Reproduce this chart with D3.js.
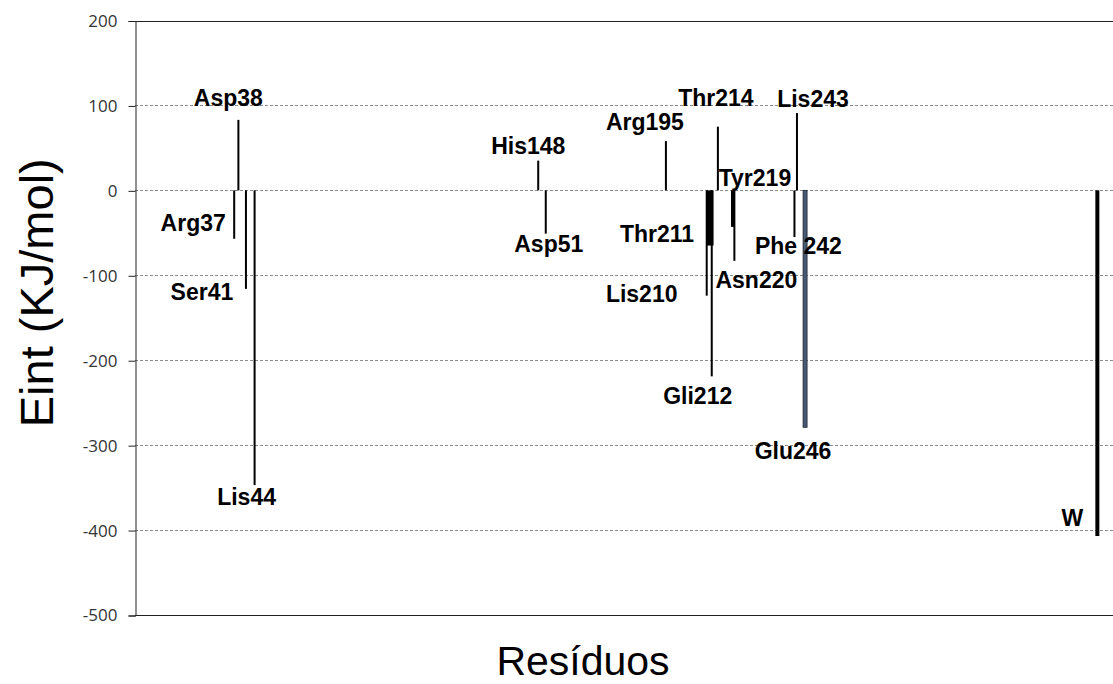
<!DOCTYPE html>
<html lang="pt">
<head>
  <meta charset="UTF-8">
  <script src="https://cdn.jsdelivr.net/npm/d3@7/dist/d3.min.js"></script>
  <title>Eint por resíduo</title>
  <style>
    body { margin: 0; background: #fff; }
  </style>
</head>
<body>
  <svg class="svg" width="1113" height="684"></svg>
  <script>
    // residues (label shown on chart), their order along the x axis, and Eint (KJ/mol)
    const residues = ["Arg37", "Asp38", "Ser41", "Lis44", "His148", "Asp51", "Arg195", "Lis210",
      "Thr211", "Gli212", "Thr214", "Tyr219", "Asn220", "Phe 242", "Lis243", "Glu246", "W"]
    const order = [35.5, 37, 39.7, 42.8, 144.3, 147, 190, 204.6,
      205.8, 206.4, 208.6, 214, 214.5, 236, 236.9, 239.8, 344.4]
    const eint = [-57, 83, -116, -347, 35, -51, 58, -124,
      -65, -219, 75, -43, -83, -55, 91, -279, -407]
    const yTicks = [200, 100, 0, -100, -200, -300, -400, -500]

    const data = residues.map((r, i) => ({name: r, pos: order[i], value: eint[i]}))

    let svg = d3.select(".svg")
    let margin = ({top: 20.5, right: 0, bottom: 69, left: 135})
    let width = +svg.attr("width")
    let height = +svg.attr("height")

    let x = d3.scaleLinear()
      .domain([0, 350])
      .range([margin.left, width - margin.right])

    let y = d3.scaleLinear()
      .domain([-500, 200])
      .range([height - margin.bottom, margin.top])

    // bar widths and label offsets (layout only)
    const barW = {"Thr211": 7, "Tyr219": 4, "Glu246": 4, "W": 4}
    const labelOff = {
      "Arg37": [-41, -16], "Asp38": [-10, -22], "Ser41": [-44, 3], "Lis44": [-8, 12],
      "His148": [-10, -15], "Asp51": [3, 10], "Arg195": [-21, -19], "Lis210": [-65, -2],
      "Thr211": [-53, -12], "Gli212": [-14, 19], "Thr214": [-2, -29], "Tyr219": [22, -49],
      "Asn220": [22, 19], "Phe 242": [4, 9], "Lis243": [16, -14], "Glu246": [-12, 23],
      "W": [-25, -18]
    }

    // gridlines
    svg.append("g")
      .selectAll("line")
      .data(yTicks.filter(d => d !== 200 && d !== -500))
      .join("line")
      .attr("x1", margin.left)
      .attr("x2", width)
      .attr("y1", d => Math.round(y(d)) + 0.5)
      .attr("y2", d => Math.round(y(d)) + 0.5)
      .attr("stroke", "#8c8c8c")
      .attr("stroke-dasharray", "3,2")

    // top and bottom border
    svg.append("g")
      .selectAll("line")
      .data([200, -500])
      .join("line")
      .attr("x1", margin.left)
      .attr("x2", width)
      .attr("y1", d => Math.round(y(d)) + 0.5)
      .attr("y2", d => Math.round(y(d)) + 0.5)
      .attr("stroke", "#222")

    let yAxis = g => g
      .attr("transform", `translate(${margin.left + 0.5},0.5)`)
      .call(d3.axisLeft(y).tickValues(yTicks).tickSize(7).tickPadding(11).tickFormat(d => String(d)))
      .call(g => g.select(".domain").attr("stroke", "#222"))
      .call(g => g.selectAll(".tick line").attr("stroke", "#222"))
      .call(g => g.selectAll("text")
        .attr("fill", "#333")
        .attr("font-family", "'Open Sans', sans-serif")
        .attr("font-size", 17))

    svg.append("g").call(yAxis)

    // bars
    svg.append("g")
      .selectAll("rect")
      .data(data)
      .join("rect")
      .attr("x", d => x(d.pos) - (barW[d.name] || 2) / 2)
      .attr("width", d => barW[d.name] || 2)
      .attr("y", d => y(Math.max(0, d.value)))
      .attr("height", d => Math.abs(y(d.value) - y(0)))
      .attr("fill", d => d.name === "Glu246" ? "#475a73" : "#000")
      .attr("stroke", d => d.name === "Glu246" ? "#1c2633" : "none")
      .attr("stroke-width", 0.8)

    // labels
    svg.append("g")
      .attr("font-family", "'Liberation Sans', Arial, sans-serif")
      .attr("font-weight", "bold")
      .attr("font-size", 23)
      .attr("text-anchor", "middle")
      .selectAll("text")
      .data(data)
      .join("text")
      .attr("x", d => x(d.pos) + labelOff[d.name][0])
      .attr("y", d => y(d.value) + labelOff[d.name][1])
      .attr("dy", "0.36em")
      .text(d => d.name)

    // axis titles
    svg.append("text")
      .attr("transform", `translate(53,${(margin.top + height - margin.bottom) / 2 - 25}) rotate(-90)`)
      .attr("text-anchor", "middle")
      .attr("font-family", "'Liberation Sans', Arial, sans-serif")
      .attr("font-size", 47)
      .text("Eint (KJ/mol)")

    svg.append("text")
      .attr("x", 583)
      .attr("y", 675)
      .attr("text-anchor", "middle")
      .attr("font-family", "'Liberation Sans', Arial, sans-serif")
      .attr("font-size", 41)
      .text("Resíduos")
  </script>
</body>
</html>
